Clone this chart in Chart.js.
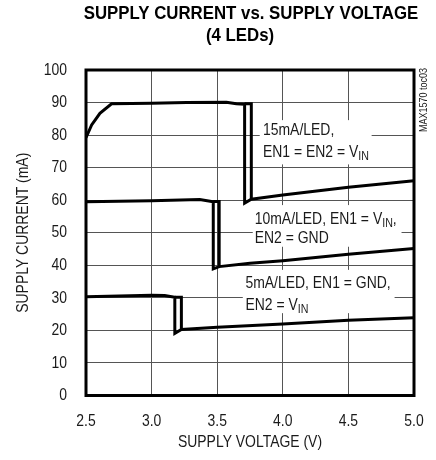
<!DOCTYPE html>
<html>
<head>
<meta charset="utf-8">
<script src="https://cdn.jsdelivr.net/npm/chart.js@4/dist/chart.umd.min.js"></script>
<style>
  html, body { margin: 0; padding: 0; background: #fff; }
  canvas { display: block; }
</style>
</head>
<body>
<canvas id="c" width="436" height="460"></canvas>
<script>
const FACE = '"Liberation Sans", Arial, Helvetica, sans-serif';

// Axis ticks
const voltageTicks = [2.5, 3.0, 3.5, 4.0, 4.5, 5.0];
const currentTicks = [0, 10, 20, 30, 40, 50, 60, 70, 80, 90, 100];

// 15mA/LED, EN1 = EN2 = VIN: main sweep, then the hysteresis return branch
const v15 = [2.5, 2.543, 2.606, 2.695, 3.0, 3.266, 3.57, 3.646, 3.709, 3.709, 3.76, 4.0, 4.5, 5.0];
const i15 = [79.2, 83.1, 86.7, 89.6, 89.8, 90.0, 90.1, 89.6, 89.5, 59.1, 60.3, 61.6, 64.0, 66.0];
const v15r = [3.709, 3.76, 3.76];
const i15r = [89.6, 89.6, 60.3];

// 10mA/LED, EN1 = VIN, EN2 = GND
const v10 = [2.5, 3.0, 3.367, 3.47, 3.47, 3.515, 3.75, 4.0, 4.5, 5.0];
const i10 = [59.5, 59.8, 60.2, 59.5, 38.9, 39.6, 40.6, 41.4, 43.4, 45.2];
const v10r = [3.47, 3.515, 3.515];
const i10r = [59.6, 59.6, 39.6];

// 5mA/LED, EN1 = GND, EN2 = VIN
const v5 = [2.5, 3.0, 3.1, 3.177, 3.177, 3.227, 3.5, 4.0, 4.5, 5.0];
const i5 = [30.3, 30.8, 30.7, 30.2, 19.1, 20.3, 21.0, 22.0, 23.1, 23.9];
const v5r = [3.177, 3.227, 3.227];
const i5r = [30.2, 30.2, 20.3];

const zip = (xs, ys) => xs.map((x, k) => ({ x, y: ys[k] }));

const curve = (xs, ys) => ({
  data: zip(xs, ys),
  showLine: true,
  borderColor: '#000',
  borderWidth: 3,
  pointRadius: 0,
  pointHoverRadius: 0,
  tension: 0,
  fill: false
});

// Curve captions, anchored in axis units (V, mA)
const captions = [
  { box: [3.824, 4.677, 84.6, 71.0], x: 3.849,
    lines: [{ y: 81.45, parts: [['15mA/LED,']] },
            { y: 74.8, parts: [['EN1 = EN2 = V'], ['IN', true]] }] },
  { box: [3.771, 4.905, 58.5, 45.7], x: 3.786,
    lines: [{ y: 54.0, parts: [['10mA/LED, EN1 = V'], ['IN', true], [',']] },
            { y: 48.2, parts: [['EN2 = GND']] }] },
  { box: [3.695, 4.852, 38.6, 25.3], x: 3.715,
    lines: [{ y: 34.6, parts: [['5mA/LED, EN1 = GND,']] },
            { y: 27.8, parts: [['EN2 = V'], ['IN', true]] }] }
];

// Condensed text: a regular face squeezed horizontally
function drawText(ctx, text, x, y, o) {
  const sx = o.sx || 0.82;
  ctx.save();
  ctx.font = (o.bold ? 'bold ' : '') + o.size + 'px ' + FACE;
  ctx.fillStyle = o.color || '#1a1a1a';
  ctx.textBaseline = 'middle';
  ctx.textAlign = 'left';
  const w = ctx.measureText(text).width * sx;
  const x0 = o.align === 'center' ? x - w / 2 : o.align === 'right' ? x - w : x;
  ctx.translate(x0, y);
  if (o.rotate) ctx.rotate(o.rotate);
  ctx.scale(sx, 1);
  ctx.fillText(text, 0, 0);
  ctx.restore();
  return w;
}

const decorations = {
  id: 'decorations',
  beforeDatasetsDraw(chart) {
    const { ctx, scales: { x, y } } = chart;
    captions.forEach(c => {
      const [x0, x1, y0, y1] = c.box;
      const px0 = x.getPixelForValue(x0), px1 = x.getPixelForValue(x1);
      const py0 = y.getPixelForValue(y0), py1 = y.getPixelForValue(y1);
      ctx.save();
      ctx.fillStyle = '#fff';
      ctx.fillRect(px0, py0, px1 - px0, py1 - py0);
      ctx.restore();
      c.lines.forEach(line => {
        let px = x.getPixelForValue(c.x);
        const py = y.getPixelForValue(line.y);
        line.parts.forEach(([t, sub]) => {
          px += drawText(ctx, t, px, sub ? py + 4 : py, { size: sub ? 13 : 17 });
        });
      });
    });
  },
  afterDatasetsDraw(chart) {
    const { ctx, chartArea: a } = chart;
    ctx.save();
    ctx.strokeStyle = '#000';
    ctx.lineWidth = 3;
    ctx.strokeRect(a.left, a.top, a.right - a.left, a.bottom - a.top);
    ctx.restore();
  },
  afterDraw(chart) {
    const { ctx, chartArea: a, scales: { x, y } } = chart;
    // tick labels placed through the scales
    voltageTicks.forEach(v => {
      drawText(ctx, v.toFixed(1), x.getPixelForValue(v), a.bottom + 26, { size: 17, align: 'center' });
    });
    currentTicks.forEach(v => {
      drawText(ctx, String(v), a.left - 19, y.getPixelForValue(v), { size: 17, align: 'right' });
    });
    // axis titles
    drawText(ctx, 'SUPPLY VOLTAGE (V)', (a.left + a.right) / 2, a.bottom + 46.5, { size: 17, align: 'center' });
    ctx.save();
    ctx.translate(23.5, (a.top + a.bottom) / 2);
    ctx.rotate(-Math.PI / 2);
    drawText(ctx, 'SUPPLY CURRENT (mA)', 0, 0, { size: 17, align: 'center' });
    ctx.restore();
    // chart title
    drawText(ctx, 'SUPPLY CURRENT vs. SUPPLY VOLTAGE', 251, 14, { size: 19, bold: true, sx: 0.885, align: 'center', color: '#000' });
    drawText(ctx, '(4 LEDs)', 240, 36, { size: 19, bold: true, sx: 0.885, align: 'center', color: '#000' });
    // figure tag along the right frame
    ctx.save();
    ctx.translate(a.right + 10, a.top + 30);
    ctx.rotate(-Math.PI / 2);
    drawText(ctx, 'MAX1570 toc03', 0, 0, { size: 11, align: 'center', color: '#222' });
    ctx.restore();
  }
};

new Chart(document.getElementById('c'), {
  type: 'scatter',
  data: {
    datasets: [
      curve(v15, i15), curve(v15r, i15r),
      curve(v10, i10), curve(v10r, i10r),
      curve(v5, i5), curve(v5r, i5r)
    ]
  },
  options: {
    responsive: false,
    animation: false,
    devicePixelRatio: 1,
    layout: { padding: { top: 70, right: 22, left: 0, bottom: 0 } },
    plugins: { legend: { display: false }, tooltip: { enabled: false }, title: { display: false } },
    scales: {
      x: {
        type: 'linear', min: 2.5, max: 5.0,
        afterFit: s => { s.height = 64.5; },
        afterBuildTicks: s => { s.ticks = voltageTicks.map(v => ({ value: v })); },
        grid: { color: '#555', lineWidth: 1, drawTicks: false },
        border: { display: false },
        ticks: { display: false }
      },
      y: {
        type: 'linear', min: 0, max: 100,
        afterFit: s => { s.width = 86; },
        afterBuildTicks: s => { s.ticks = currentTicks.map(v => ({ value: v })); },
        grid: { color: '#555', lineWidth: 1, drawTicks: false },
        border: { display: false },
        ticks: { display: false }
      }
    }
  },
  plugins: [decorations]
});
</script>
</body>
</html>
